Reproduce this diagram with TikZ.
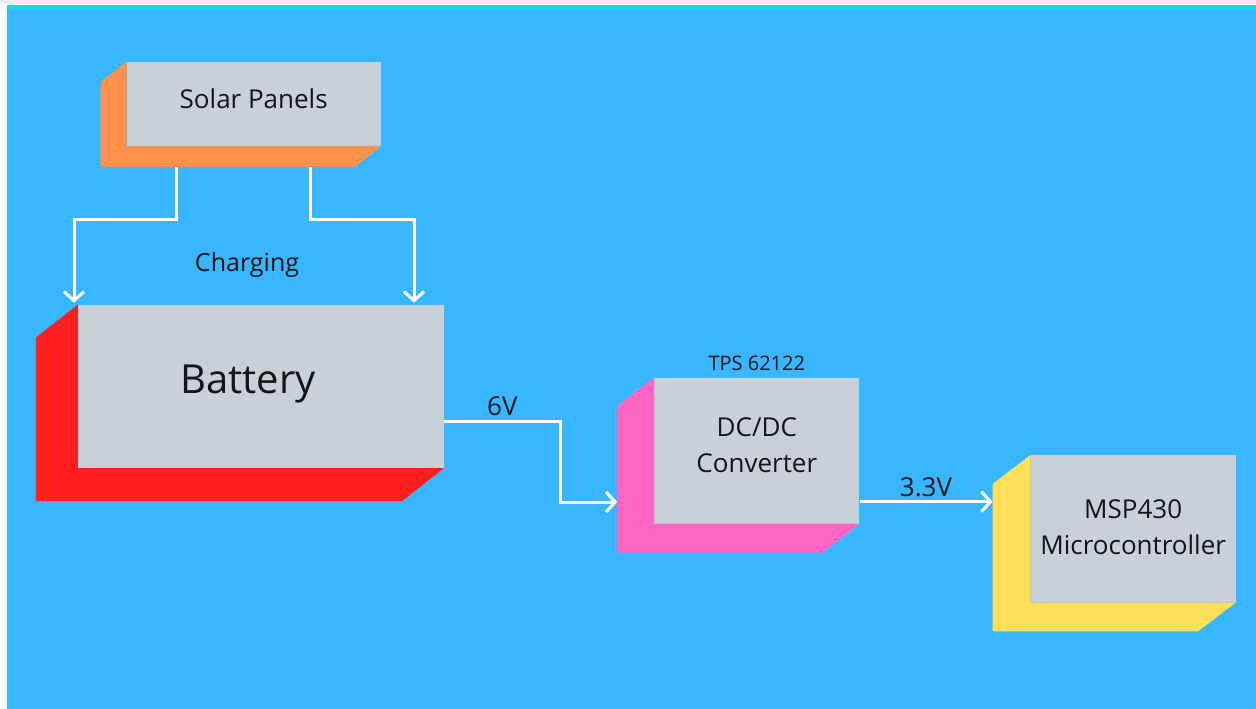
\documentclass[tikz,border=0pt]{standalone}
\usepackage{fontspec}
\setmainfont{Open Sans}
\usetikzlibrary{positioning, arrows.meta}

\definecolor{skyblue}{HTML}{38B6FF}
\definecolor{topcyan}{HTML}{17D9E0}
\definecolor{topgray}{HTML}{EDEDED}
\definecolor{facegray}{HTML}{C8D0DA}
\definecolor{inkblack}{HTML}{151515}
\definecolor{solarorange}{HTML}{FF914D}
\definecolor{battred}{HTML}{FF1F1F}
\definecolor{convpink}{HTML}{FF66C4}
\definecolor{mcuyellow}{HTML}{FFDE59}

\begin{document}
\begin{tikzpicture}[x=1pt, y=-1pt, font=\fontsize{26}{36}\selectfont, text=inkblack,
    face/.style={fill=facegray, inner sep=0pt},
    wire/.style={draw=white, line width=3pt, -{Straight Barb[length=9pt, width=20pt]}}]
    \useasboundingbox (0,0) rectangle (1256,709);
    \fill[white] (0,0) rectangle (1256,709);
    \fill[topgray] (0,0) rectangle (1256,4);
    \fill[topcyan] (7,5) rectangle (1256,9);
    \fill[skyblue] (7,9) rectangle (1256,709);

    \node[face, minimum width=254pt, minimum height=84pt] (sp) at (253.7,103.7) {};
    \node[face, minimum width=366pt, minimum height=163pt] (bat) at (261,386.3) {};
    \node[face, minimum width=205pt, minimum height=146pt] (dc) at (756.8,450.5) {};
    \node[face, minimum width=205pt, minimum height=147pt] (msp) at (1133.2,528.7) {};

    % extruded sides
    \fill[solarorange] (sp.north west) -- ++(-26,21) |- ([shift={(-26,21)}]sp.south east) -- (sp.south east) -- (sp.south west) -- cycle;
    \fill[battred] (bat.north west) -- ++(-42,33) |- ([shift={(-42,33)}]bat.south east) -- (bat.south east) -- (bat.south west) -- cycle;
    \fill[convpink] (dc.north west) -- ++(-37,29) |- ([shift={(-37,29)}]dc.south east) -- (dc.south east) -- (dc.south west) -- cycle;
    \fill[mcuyellow] (msp.north west) -- ++(-38,29) |- ([shift={(-38,29)}]msp.south east) -- (msp.south east) -- (msp.south west) -- cycle;

    % box texts
    \node (sptext) at ([shift={(0,-5)}]sp.center) {Solar Panels};
    \node[font=\fontsize{40}{48}\selectfont] (battext) at ([shift={(-13,-2)}]bat.center) {Battery};
    \node[align=center] (dctext) at ([shift={(0,-5)}]dc.center) {DC/DC\\Converter};
    \node[align=center] (msptext) at ([shift={(0,-2)}]msp.center) {MSP430\\Microcontroller};
    \node[above=3pt of dc, font=\fontsize{20}{24}\selectfont] (tps) {TPS 62122};
    \node[font=\fontsize{25}{30}\selectfont] (chg) at (247,265) {Charging};

    \draw[wire] ([shift={(-77,21)}]sp.south) -- ++(0,52.6) -| ([shift={(-187,-2)}]bat.north);
    \draw[wire] ([shift={(56.3,21)}]sp.south) -- ++(0,52.6) -| ([shift={(153,-2)}]bat.north);
    \draw[wire] ([shift={(0,35)}]bat.east) -- node[above=1pt]{6V} ++(116.3,0) |- ([shift={(-37,51.5)}]dc.west);
    \draw[wire] ([shift={(0,51.2)}]dc.east) -- node[above=0pt]{3.3V} ([shift={(-38,-27)}]msp.west);
\end{tikzpicture}
\end{document}
